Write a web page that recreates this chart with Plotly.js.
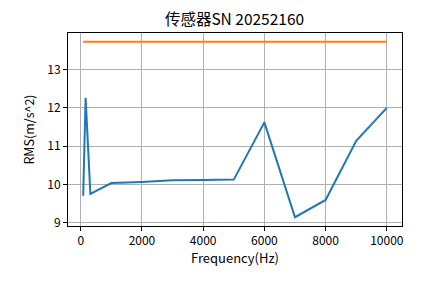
<!DOCTYPE html>
<html>
<head>
<meta charset="utf-8">
<script src="https://cdn.plot.ly/plotly-3.0.1.min.js"></script>
<style>html,body{margin:0;padding:0;background:#fff;}#chart{width:445px;height:283px;}</style>
</head>
<body>
<div id="chart"></div>
<script>
const titleText = "传感器SN 20252160";
const xLabel = "Frequency(Hz)";
const yLabel = "RMS(m/s^2)";
const freq = [80, 160, 315, 1000, 2000, 3000, 4000, 5000, 6000, 7000, 8000, 9000, 10000];
const rms = [9.71, 12.26, 9.76, 10.04, 10.07, 10.11, 10.12, 10.13, 11.62, 9.15, 9.60, 11.14, 12.0];
const limitX = [80, 10000];
const limitY = [13.72, 13.72];
const xTicks = [0, 2000, 4000, 6000, 8000, 10000];
const yTicks = [9, 10, 11, 12, 13];

const FONT = '"Noto Sans CJK SC", "DejaVu Sans", sans-serif';
const xmin = Math.min(...freq), xmax = Math.max(...freq);
const allY = rms.concat(limitY);
const ymin = Math.min(...allY), ymax = Math.max(...allY);
const xpad = (xmax - xmin) * 0.05, ypad = (ymax - ymin) * 0.05;

const traces = [
  {x: freq, y: rms, mode: 'lines', line: {color: '#1f77b4', width: 2}, hoverinfo: 'skip'},
  {x: limitX, y: limitY, mode: 'lines', line: {color: '#ff7f0e', width: 2}, hoverinfo: 'skip'}
];
const axisCommon = {
  showline: true, linecolor: '#000', linewidth: 1, mirror: true,
  ticks: 'outside', ticklen: 4, tickcolor: '#000', tickwidth: 1,
  showgrid: true, gridcolor: '#b0b0b0', gridwidth: 1, zeroline: false,
  tickfont: {family: FONT, size: 12, color: '#000'}
};
const layout = {
  width: 445, height: 283,
  margin: {l: 68, r: 43, t: 33, b: 57},
  paper_bgcolor: '#fff', plot_bgcolor: '#fff',
  showlegend: false,
  title: {text: titleText, font: {family: FONT, size: 15.5, color: '#000'}, x: 0.527, xanchor: 'center', y: 0.93, yanchor: 'middle'},
  xaxis: Object.assign({}, axisCommon, {
    range: [xmin - xpad, xmax + xpad], tickvals: xTicks, ticktext: xTicks.map(String),
    title: {text: xLabel, font: {family: FONT, size: 13, color: '#000'}, standoff: 5}
  }),
  yaxis: Object.assign({}, axisCommon, {
    range: [ymin - ypad, ymax + ypad], tickvals: yTicks, ticktext: yTicks.map(String),
    title: {text: yLabel, font: {family: FONT, size: 12.5, color: '#000'}, standoff: 9}
  })
};
Plotly.newPlot('chart', traces, layout, {staticPlot: true, displayModeBar: false});
</script>
</body>
</html>
